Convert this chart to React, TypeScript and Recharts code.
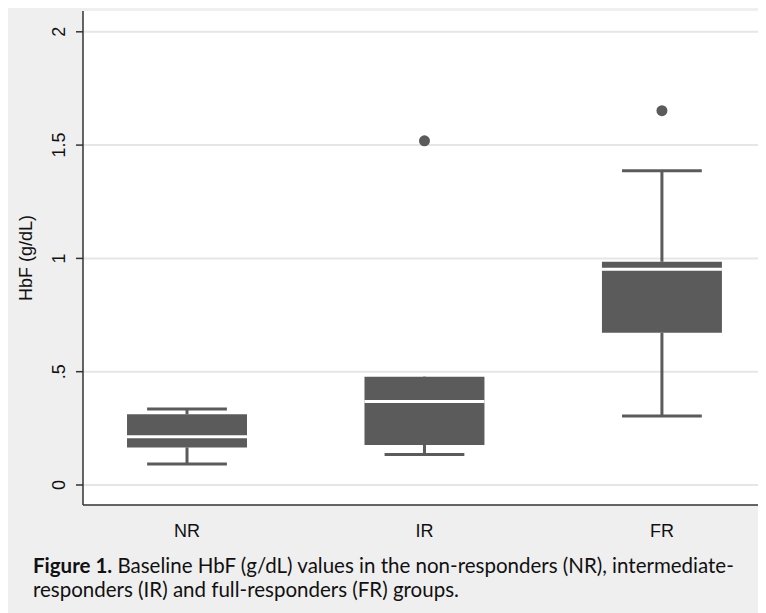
import {
  ComposedChart,
  XAxis,
  YAxis,
  CartesianGrid,
  ReferenceArea,
  ReferenceLine,
  Scatter,
} from 'recharts';

const groups = ['NR', 'IR', 'FR'];
const positions = [1, 2, 3];
const lowerWhisker = [0.093, 0.135, 0.304];
const q1 = [0.166, 0.177, 0.672];
const median = [0.213, 0.368, 0.952];
const q3 = [0.312, 0.478, 0.985];
const upperWhisker = [0.335, 0.47, 1.387];
const outliers = [
  { x: 2, y: 1.519 },
  { x: 3, y: 1.652 },
];
const yTicks = [0, 0.5, 1, 1.5, 2];
const yTickLabels = ['0', '.5', '1', '1.5', '2'];

const BOX = '#5b5b5b';
const BOX_HALF = 0.2526;
const CAP_HALF = 0.168;
const FONT = 'Liberation Sans, Arial, sans-serif';

const YTick = (props: any) => {
  const { y, payload } = props;
  const idx = yTicks.indexOf(payload.value);
  const bx = 57.5;
  return (
    <text
      x={bx}
      y={y}
      transform={`rotate(-90, ${bx}, ${y})`}
      textAnchor="middle"
      fontSize={18}
      fontFamily={FONT}
      fill="#111"
    >
      {idx >= 0 ? yTickLabels[idx] : payload.value}
    </text>
  );
};

const XTick = (props: any) => {
  const { x, y, payload } = props;
  return (
    <text x={x} y={y + 30} textAnchor="middle" fontSize={18} fontFamily={FONT} fill="#111">
      {groups[payload.value - 1]}
    </text>
  );
};

const Dot = (props: any) => <circle cx={props.cx} cy={props.cy} r={5.5} fill={BOX} />;

export default function App() {
  return (
    <div style={{ position: 'relative', width: 758, height: 605, background: '#efefef' }}>
      <ComposedChart width={758} height={540} margin={{ top: 3, right: 6, left: 0, bottom: 0 }}>
        <CartesianGrid
          vertical={false}
          fill="#ffffff"
          stroke="#e6e6e6"
          strokeWidth={2}
          horizontalValues={yTicks}
        />
        <XAxis
          type="number"
          dataKey="x"
          domain={[0.562, 3.413]}
          allowDataOverflow
          ticks={positions}
          tick={<XTick />}
          tickLine={false}
          tickSize={0}
          height={43}
          axisLine={{ stroke: '#333', strokeWidth: 1.5 }}
        />
        <YAxis
          type="number"
          dataKey="y"
          domain={[-0.0883, 2.0918]}
          allowDataOverflow
          ticks={yTicks}
          tick={<YTick />}
          tickSize={7}
          width={75}
          tickLine={{ stroke: '#333', strokeWidth: 1.5 }}
          axisLine={{ stroke: '#333', strokeWidth: 1.5 }}
          label={{
            value: 'HbF (g/dL)',
            angle: -90,
            position: 'insideLeft',
            offset: 0,
            dx: 18,
            fontSize: 18,
            fontFamily: FONT,
            fill: '#111',
            style: { textAnchor: 'middle' },
          }}
        />
        {positions.map((c, i) => (
          <ReferenceLine
            key={`wl-${i}`}
            segment={[{ x: c, y: lowerWhisker[i] }, { x: c, y: q1[i] }]}
            stroke={BOX}
            strokeWidth={3}
          />
        ))}
        {positions.map((c, i) => (
          <ReferenceLine
            key={`wh-${i}`}
            segment={[{ x: c, y: q3[i] }, { x: c, y: upperWhisker[i] }]}
            stroke={BOX}
            strokeWidth={3}
          />
        ))}
        {positions.map((c, i) => (
          <ReferenceLine
            key={`cl-${i}`}
            segment={[{ x: c - CAP_HALF, y: lowerWhisker[i] }, { x: c + CAP_HALF, y: lowerWhisker[i] }]}
            stroke={BOX}
            strokeWidth={3}
          />
        ))}
        {positions.map((c, i) => (
          <ReferenceLine
            key={`ch-${i}`}
            segment={[{ x: c - CAP_HALF, y: upperWhisker[i] }, { x: c + CAP_HALF, y: upperWhisker[i] }]}
            stroke={BOX}
            strokeWidth={3}
          />
        ))}
        {positions.map((c, i) => (
          <ReferenceArea
            key={`box-${i}`}
            x1={c - BOX_HALF}
            x2={c + BOX_HALF}
            y1={q1[i]}
            y2={q3[i]}
            fill={BOX}
            fillOpacity={1}
            stroke="none"
          />
        ))}
        {positions.map((c, i) => (
          <ReferenceLine
            key={`med-${i}`}
            segment={[{ x: c - BOX_HALF, y: median[i] }, { x: c + BOX_HALF, y: median[i] }]}
            stroke="#ffffff"
            strokeWidth={3}
          />
        ))}
        <Scatter data={outliers} dataKey="y" shape={<Dot />} isAnimationActive={false} />
      </ComposedChart>
      <div
        style={{
          position: 'absolute',
          left: 25,
          top: 545,
          width: 740,
          fontFamily: 'Lato, sans-serif',
          fontSize: 20.5,
          lineHeight: '24px',
          color: '#111',
          whiteSpace: 'nowrap',
        }}
      >
        <b>Figure 1.</b> Baseline HbF (g/dL) values in the non-responders (NR), intermediate-
        <br />
        responders (IR) and full-responders (FR) groups.
      </div>
    </div>
  );
}
